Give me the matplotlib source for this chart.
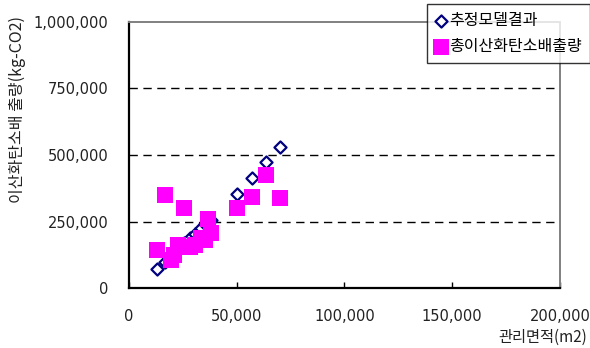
import matplotlib.pyplot as plt
from matplotlib.ticker import FuncFormatter

plt.rcParams['font.family'] = ['Noto Sans CJK KR', 'DejaVu Sans']

# 관리면적(m2), 추정모델결과, 총이산화탄소배출량
area = [12900, 16500, 19500, 21000, 22800, 25500, 28500, 30500,
        33500, 35500, 36500, 38000, 50000, 57200, 63600, 70100]
model_est = [70000, 98000, 118000, 130000, 145000, 168000, 188000, 203000,
             226000, 240000, 248000, 256000, 352000, 415000, 473000, 531000]
total_co2 = [143000, 350000, 105000, 125000, 162000, 302000, 155000, 160000,
             187000, 180000, 258000, 206000, 302000, 343000, 425000, 337000]

fig = plt.figure(figsize=(5.9, 3.48), dpi=100)
ax = fig.add_axes([0.2186, 0.1724, 0.7304, 0.7644])

ax.scatter(area, model_est, marker='D', s=38, facecolor='white',
           edgecolor='#000080', linewidth=1.6, zorder=3, label='추정모델결과')
ax.scatter(area, total_co2, marker='s', s=130, color='#ff00ff',
           linewidth=0, zorder=4, label='총이산화탄소배출량')

ax.set_xlim(0, 200000)
ax.set_ylim(0, 1000000)
ax.set_xticks([0, 50000, 100000, 150000, 200000])
ax.set_yticks([0, 250000, 500000, 750000, 1000000])
fmt = FuncFormatter(lambda v, p: f"{int(v):,}")
ax.xaxis.set_major_formatter(fmt)
ax.yaxis.set_major_formatter(fmt)

for v in [250000, 500000, 750000]:
    ax.axhline(v, color='black', linestyle=(0, (6, 4)), linewidth=1, zorder=1)

for t in ax.get_xticklabels() + ax.get_yticklabels():
    t.set_family('DejaVu Sans')
    t.set_fontsize(10.5)
    t.set_color('#222222')

ax.tick_params(axis='x', direction='in', length=4, pad=15, width=1)
ax.tick_params(axis='y', length=0, pad=15)

ax.spines['left'].set_color('black')
ax.spines['bottom'].set_color('black')
ax.spines['left'].set_linewidth(1.6)
ax.spines['bottom'].set_linewidth(1.6)
ax.spines['top'].set_color('#808080')
ax.spines['right'].set_color('#808080')
ax.spines['top'].set_linewidth(1.4)
ax.spines['right'].set_linewidth(1.4)

fig.text(0.029, 0.684, '이산화탄소배 출량(kg-CO2)', rotation=90, ha='center',
         va='center', fontsize=11.5, color='#222222')
fig.text(0.995, 0.03, '관리면적(m2)', ha='right', va='center',
         fontsize=11, color='#222222')

leg = fig.legend(loc='upper left', bbox_to_anchor=(0.7237, 0.9885), frameon=True,
                 fancybox=False, edgecolor='black', fontsize=11.5,
                 handletextpad=0.15, handlelength=0.75, borderpad=0.5,
                 labelspacing=0.55, borderaxespad=0.0, markerscale=1.0)
leg.get_frame().set_linewidth(1)

fig.savefig('out.png', dpi=100)
